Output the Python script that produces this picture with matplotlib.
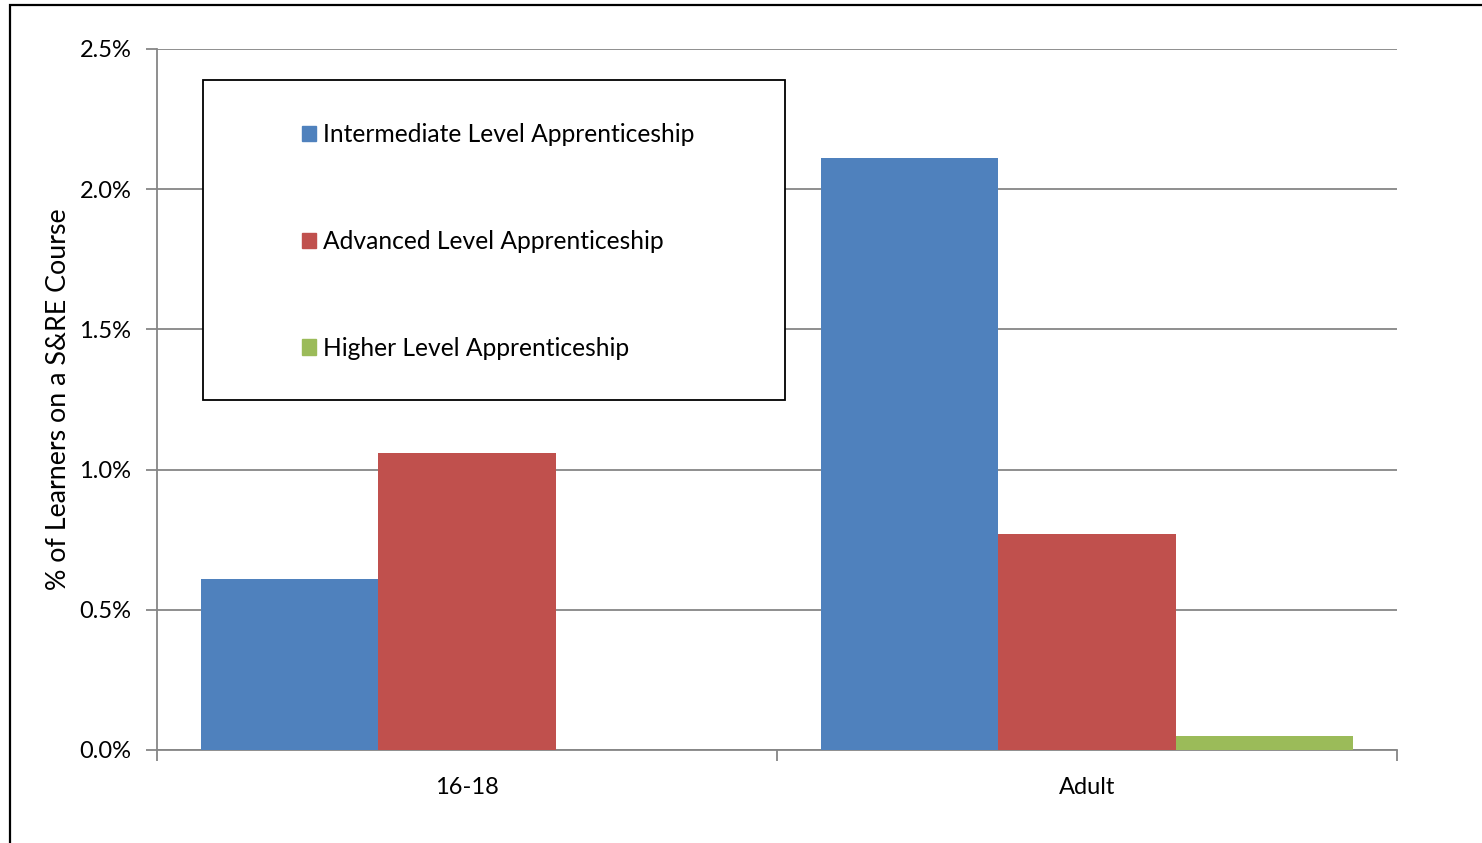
import matplotlib
matplotlib.use("Agg")
import matplotlib.pyplot as plt
import numpy as np
from matplotlib.patches import Rectangle, Patch
from matplotlib.ticker import FuncFormatter

# values (% of learners)
groups = ["16-18", "Adult"]
series = ["Intermediate Level Apprenticeship",
          "Advanced Level Apprenticeship",
          "Higher Level Apprenticeship"]
intermediate = [0.61, 2.11]
advanced = [1.06, 0.77]
higher = [0.0, 0.05]
yticks = [0.0, 0.5, 1.0, 1.5, 2.0, 2.5]

colors = ["#4F81BD", "#C0504D", "#9BBB59"]
grid_col = "#868686"
W, H = 1482, 843

plt.rcParams["font.family"] = ["Lato", "DejaVu Sans"]
fig = plt.figure(figsize=(W / 100, H / 100), dpi=100)
ax = fig.add_axes([157 / W, 1 - 750 / H, (1397 - 157) / W, (750 - 49) / H])

x = np.arange(len(groups))
bw = 0.2865
for i, vals in enumerate([intermediate, advanced, higher]):
    ax.bar(x + (i - 1) * bw, vals, width=bw, color=colors[i],
           label=series[i], zorder=3)

ax.set_xlim(-0.5, len(groups) - 0.5)
ax.set_ylim(0, 2.5)
ax.set_yticks(yticks)
ax.yaxis.set_major_formatter(FuncFormatter(lambda v, p: f"{v:.1f}%"))
ax.grid(axis="y", color=grid_col, linewidth=1.3, zorder=0)

# category boundaries get the tick marks, labels sit in the middle
ax.set_xticks(np.arange(len(groups) + 1) - 0.5)
ax.set_xticklabels([])
ax.set_xticks(x, minor=True)
ax.set_xticklabels(groups, minor=True, fontsize=17)
ax.tick_params(axis="x", which="major", length=8, width=1.3,
               color=grid_col, direction="out")
ax.tick_params(axis="x", which="minor", length=0, pad=19.5)
ax.tick_params(axis="y", length=8, width=1.3, color=grid_col,
               labelsize=17, pad=10.5)

for s in ["top", "right"]:
    ax.spines[s].set_visible(False)
for s in ["left", "bottom"]:
    ax.spines[s].set_color(grid_col)
    ax.spines[s].set_linewidth(1.3)

ax.set_ylabel("% of Learners on a S&RE Course", fontsize=19.3)
ax.yaxis.set_label_coords(-(157 - 71) / (1397 - 157), 0.5)

# legend box drawn by hand (white, hides the grid), entries from the bars
fig.patches.append(Rectangle((203 / W, 1 - 400 / H), (785 - 203) / W,
                             (400 - 80) / H, transform=fig.transFigure,
                             facecolor="white", edgecolor="black",
                             linewidth=1.3, zorder=4))
handles = [Patch(color=c) for c in colors]
leg = fig.legend(handles, series, loc="upper left", frameon=False,
                 bbox_to_anchor=(302 / W, 1 - 123.5 / H), borderpad=0,
                 borderaxespad=0, fontsize=17.75, handlelength=0.57,
                 handleheight=0.57, handletextpad=0.3, labelspacing=3.39)
leg.set_zorder(5)

# outer frame of the picture
fig.patches.append(Rectangle((10 / W, -0.05), 1.1, 1.05 - 5 / H,
                             transform=fig.transFigure, fill=False,
                             edgecolor="black", linewidth=1.6))

fig.savefig("out.png", dpi=100)
